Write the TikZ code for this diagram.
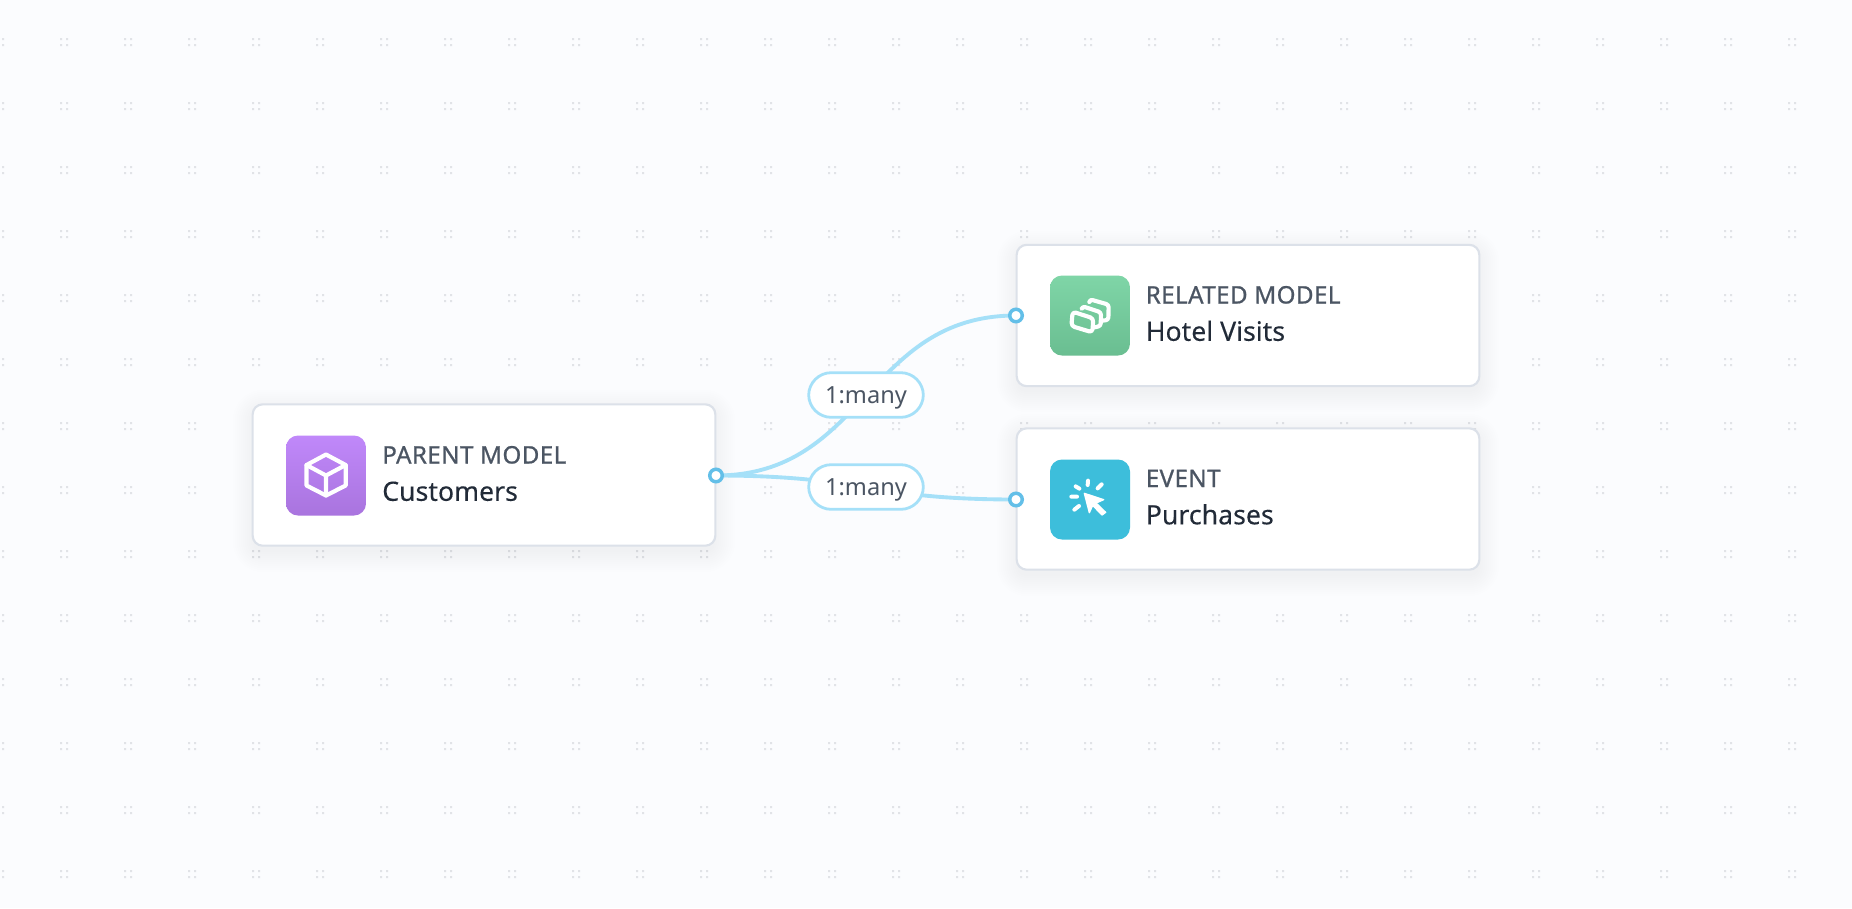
\documentclass[tikz,border=0pt]{standalone}
\usepackage{fontspec}
\setmainfont{Noto Sans}
\newfontfamily\labelfont[FakeBold=0.8,LetterSpace=1.8]{Noto Sans}
\newfontfamily\namefont[FakeBold=0.15]{Noto Sans}
\usetikzlibrary{calc}
\pgfdeclarelayer{back}
\pgfdeclarelayer{mid}
\pgfsetlayers{back,mid,main}
\definecolor{bg}{HTML}{FBFCFE}
\definecolor{griddot}{HTML}{E1E3E7}
\definecolor{cardline}{HTML}{DCE1E9}
\definecolor{wire}{HTML}{A5E0F8}
\definecolor{portc}{HTML}{63BFE8}
\definecolor{slatetxt}{HTML}{4B5563}
\definecolor{darktxt}{HTML}{222B38}
\definecolor{shadowc}{HTML}{56607A}
\tikzset{
  x=0.75pt,y=-0.75pt,
  card/.style={draw=cardline,line width=1.6pt,fill=white,rounded corners=7.5pt,minimum width=347pt,minimum height=106pt,inner sep=0pt},
  iconbox/.style={rounded corners=9pt,minimum width=60pt,minimum height=60pt,inner sep=0pt},
  wireline/.style={draw=wire,line width=2.9pt},
  port/.style={circle,draw=portc,fill=white,line width=2.6pt,minimum size=9.4pt,inner sep=0pt},
  pill/.style={draw=wire,line width=2.1pt,fill=white,rounded corners=17pt,minimum width=86pt,minimum height=33.5pt,inner sep=0pt},
  pilltext/.style={text=slatetxt,font=\fontsize{17.7}{20}\selectfont,anchor=base,inner sep=0pt},
  headtext/.style={text=slatetxt,font=\labelfont\fontsize{18.1}{20}\selectfont,anchor=base west,inner sep=0pt},
  nametext/.style={text=darktxt,font=\namefont\fontsize{20}{22}\selectfont,anchor=base west,inner sep=0pt},
  glyph/.style={draw=white,line width=3.1pt,line join=round,line cap=round},
}
\newcommand{\softshadow}[4]{%
  \foreach \g in {20,18,...,0}{%
    \fill[shadowc,opacity=0.0038,rounded corners={(7+\g*0.75)*1pt}]
      ($(#1,#2)+(-\g,-\g+6)$) rectangle ($(#3,#4)+(\g,\g+6)$);
  }}
\begin{document}
\begin{tikzpicture}
\useasboundingbox (0,0) rectangle (1852,908);
\begin{pgfonlayer}{back}
\fill[bg] (0,0) rectangle (1852,908);
\fill[griddot]
  \foreach \i in {0,...,29}{\foreach \j in {0,...,13}{
    \foreach \dx in {-3,3}{\foreach \dy in {-3,3}{
      ({64*\i+\dx-1},{64*\j+42+\dy-1}) rectangle ++(2,2)
    }}
  }};
\softshadow{253}{404}{715}{546}
\softshadow{1017}{245}{1479}{386}
\softshadow{1017}{428}{1479}{570}
\node[card] (parent) at (484,475) {};
\node[card] (related) at (1248,315.5) {};
\node[card] (event) at (1248,499) {};
\end{pgfonlayer}
% icon tiles
\node[iconbox,top color={rgb,255:red,192;green,136;blue,250},bottom color={rgb,255:red,169;green,116;blue,222}] (parentIcon) at (326,475.5) {};
\node[iconbox,top color={rgb,255:red,127;green,213;blue,167},bottom color={rgb,255:red,106;green,190;blue,145}] (relatedIcon) at (1090,315.5) {};
\node[iconbox,fill={rgb,255:red,61;green,190;blue,219}] (eventIcon) at (1090,499.5) {};
% box glyph
\draw[glyph] (326,454.5) -- (345.7,465) -- (345.7,485.5) -- (326,495.5) -- (306.5,485.5) -- (306.5,465) -- cycle;
\draw[glyph] (306.5,465) -- (326,475.5) -- (345.7,465) (326,475.5) -- (326,495.5);
% stacked glyph
\begin{scope}[shift={(1030,260)},x=0.25pt,y=-0.25pt]
  \draw[glyph,rounded corners=2pt] (178,126) -- (180,118) -- (236,134) -- (235,180) -- (216,182);
  \draw[glyph,rounded corners=2pt] (155,146) -- (158,139) -- (213,157) -- (212,198) -- (193,202);
  \draw[glyph,rounded corners=2.5pt] (128,155) -- (190,175) -- (187,217) -- (124,198) -- cycle;
\end{scope}
% click glyph
\begin{scope}[shift={(1030,445)},x=0.25pt,y=-0.25pt]
  \fill[white,draw=white,line width=1pt,line join=round] (163,145) -- (221,164) -- (198,174) -- (227,202) -- (216,210) -- (188,181) -- (178,203) -- cycle;
  \draw[glyph,line width=3pt] (174,107) -- (173,120) (137,124) -- (148,131) (215,118) -- (203,130) (124,155) -- (141,155) (133,194) -- (147,183);
\end{scope}
% ports
\node[port] (srcPort) at (716,475.5) {};
\node[port] (relPort) at (1016,315.5) {};
\node[port] (evtPort) at (1016,499.5) {};
% connectors
\begin{pgfonlayer}{mid}
\draw[wireline] (srcPort.center) .. controls (866,475.5) and (866,315.5) .. (relPort.center);
\draw[wireline] (srcPort.center) .. controls (866,475.5) and (866,499.5) .. (evtPort.center);
\end{pgfonlayer}
% pills
\node[pill] (pillA) at (866,395) {};
\node[pill] (pillB) at (866,487) {};
\node[pilltext] (pillAt) at (866,403.5) {1:many};
\node[pilltext] (pillBt) at (866,495.5) {1:many};
% text
\node[headtext] (parentHead) at (382,463.5) {PARENT MODEL};
\node[nametext] (parentName) at (382,500.8) {Customers};
\node[headtext] (relatedHead) at (1145.5,303.5) {RELATED MODEL};
\node[nametext] (relatedName) at (1145.5,340.8) {Hotel Visits};
\node[headtext] (eventHead) at (1145.5,487) {EVENT};
\node[nametext] (eventName) at (1145.5,524.3) {Purchases};
\end{tikzpicture}
\end{document}
